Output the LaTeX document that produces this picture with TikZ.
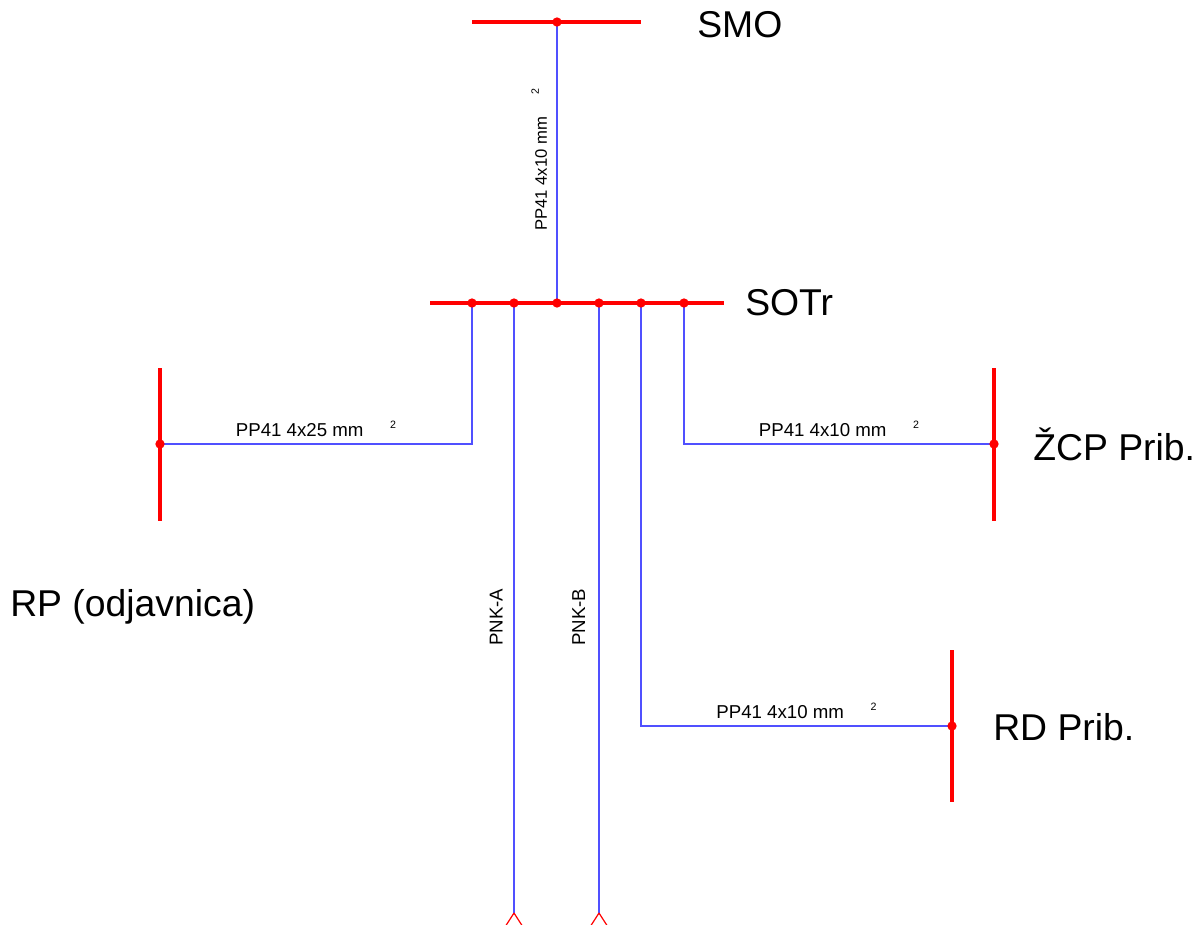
\documentclass[tikz,border=0pt]{standalone}
\usepackage{fontspec}
\setmainfont{Liberation Sans}
\usetikzlibrary{positioning}
\definecolor{cableblue}{RGB}{80,80,255}
% cross section with a raised "2"
\newcommand{\mmsq}[1][20pt]{mm\hspace{#1}\raisebox{6pt}{\fontsize{8}{9}\selectfont 2}}
\tikzset {
  bus/.style = {
    draw = red,
    line width = 3pt
  },
  cable/.style = {
    draw = cableblue,
    line width = 0.9pt
  },
  % open end of a cable
  cable end/.style = {
    draw = red,
    line width = 0.9pt
  },
  tap/.style = {
    circle,
    fill = red,
    minimum size = 7pt,
    inner sep = 0
  },
  bus name/.style = {
    font = \fontsize{28}{32}\selectfont,
    anchor = base west,
    inner sep = 0
  },
  cable label/.style = {
    font = \fontsize{14}{16}\selectfont,
    anchor = south,
    inner sep = 5pt
  }
}
\begin{document}
\begin{tikzpicture}[x=0.75pt, y=-0.75pt]
    \useasboundingbox (0,0) rectangle (1204,925);

    % bus bars
    \coordinate (smo-w) at (472,22);
    \coordinate (smo-e) at (641,22);
    \coordinate (sotr-w) at (430,303);
    \coordinate (sotr-e) at (724,303);
    \coordinate (rp-n) at (160,368);
    \coordinate (rp-s) at (160,521);
    \coordinate (zcp-n) at (994,368);
    \coordinate (zcp-s) at (994,521);
    \coordinate (rd-n) at (952,650);
    \coordinate (rd-s) at (952,802);

    % connection points
    \coordinate (smo-out) at (557,22);
    \foreach \x/\name in {472/rp,514/pnka,557/smo,599/pnkb,641/rd,684/zcp}
      \coordinate (sotr-\name) at (\x,303);
    \coordinate (rp-in) at (160,444);
    \coordinate (zcp-in) at (994,444);
    \coordinate (rd-in) at (952,726);
    \coordinate (pnka-end) at (514,913);
    \coordinate (pnkb-end) at (599,913);

    \draw[bus] (smo-w) -- (smo-e);
    \draw[bus] (sotr-w) -- (sotr-e);
    \draw[bus] (rp-n) -- (rp-s);
    \draw[bus] (zcp-n) -- (zcp-s);
    \draw[bus] (rd-n) -- (rd-s);

    % cables
    \draw[cable] (smo-out)
      -- node[cable label, rotate=90, pos=0.49, inner sep=7pt,
              font=\fontsize{12.5}{15}\selectfont] {PP41 4x10 \mmsq[17pt]}
      (sotr-smo);

    \draw[cable] (sotr-rp)
      |- node[cable label, pos=0.75] {PP41 4x25 \mmsq} (rp-in);

    \draw[cable] (sotr-zcp)
      |- node[cable label, pos=0.75] {PP41 4x10 \mmsq} (zcp-in);

    \draw[cable] (sotr-rd)
      |- node[cable label, pos=0.75] {PP41 4x10 \mmsq} (rd-in);

    \draw[cable] (sotr-pnka)
      -- node[cable label, rotate=90, pos=0.515, inner sep=8pt] {PNK-A}
      (pnka-end);

    \draw[cable] (sotr-pnkb)
      -- node[cable label, rotate=90, pos=0.515, inner sep=10pt] {PNK-B}
      (pnkb-end);

    \draw[cable end] (pnka-end) -- ++(-9,14) (pnka-end) -- ++(9,14);
    \draw[cable end] (pnkb-end) -- ++(-9,14) (pnkb-end) -- ++(9,14);

    % taps on the bus bars
    \foreach \p in {smo-out,sotr-rp,sotr-pnka,sotr-smo,sotr-pnkb,sotr-rd,sotr-zcp,rp-in,zcp-in,rd-in}
      \node[tap] (dot-\p) at (\p) {};

    % names
    \node[bus name] (smo) at (697,37) {SMO};
    \node[bus name] (sotr) at (745,315) {SOTr};
    \node[bus name] (rp) at (10,616) {RP (odjavnica)};
    \node[bus name] (zcp) at (1033,460) {ŽCP Prib.};
    \node[bus name] (rd) at (993,740) {RD Prib.};
\end{tikzpicture}
\end{document}
